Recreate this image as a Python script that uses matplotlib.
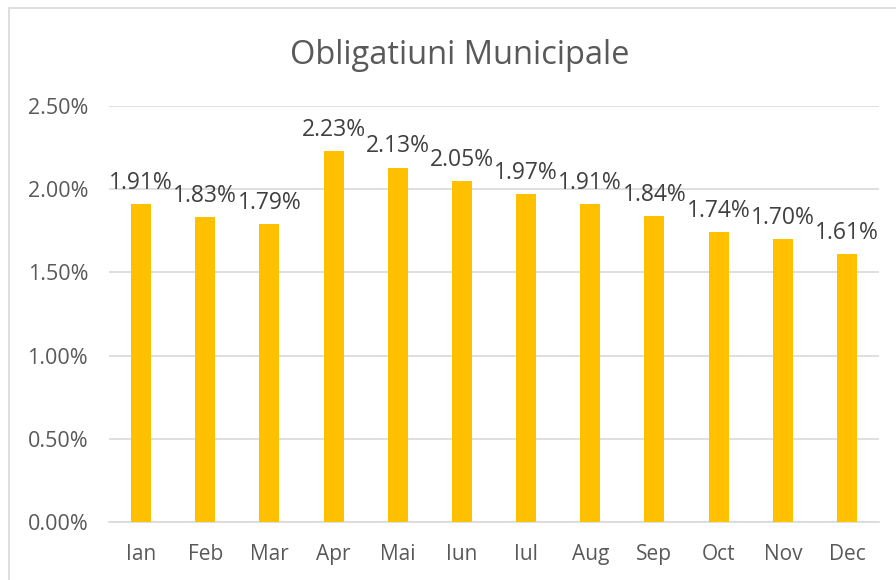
import matplotlib; matplotlib.use("Agg")
import matplotlib.pyplot as plt
from matplotlib.patches import Rectangle
from matplotlib.ticker import FuncFormatter
import numpy as np

plt.rcParams["font.family"] = ["Open Sans", "DejaVu Sans"]

luni = ["Ian", "Feb", "Mar", "Apr", "Mai", "Iun", "Iul", "Aug", "Sep", "Oct", "Nov", "Dec"]
randament = [1.91, 1.83, 1.79, 2.23, 2.13, 2.05, 1.97, 1.91, 1.84, 1.74, 1.70, 1.61]
yticks = [0.0, 0.5, 1.0, 1.5, 2.0, 2.5]

fig = plt.figure(figsize=(8.96, 5.8), dpi=100)
# chenar zona grafic (taiat in dreapta si jos)
fig.patches.append(Rectangle((9/896, -0.1), 1.2, 1 - 8/580 + 0.1, transform=fig.transFigure,
                             fill=False, edgecolor="#D9D9D9", lw=1.2))
ax = fig.add_axes([109/896, 1 - 522/580, 770/896, 416/580])

x = np.arange(len(luni))
ax.bar(x, randament, 0.31, color="#FFC000", zorder=3)
for xi, v in zip(x, randament):
    ax.annotate(f"{v:.2f}%", (xi, v), xytext=(0, 11), textcoords="offset points",
                ha="center", va="baseline", fontsize=16.5, color="#404040")

ax.set_xlim(-0.5, len(luni) - 0.5)
ax.set_ylim(0, 2.5)
ax.set_yticks(yticks)
ax.yaxis.set_major_formatter(FuncFormatter(lambda v, p: f"{v:.2f}%"))
ax.set_xticks(x)
ax.set_xticklabels(luni)
ax.tick_params(length=0, colors="#595959")
ax.tick_params(axis="x", labelsize=15, pad=16)
ax.tick_params(axis="y", labelsize=15.5, pad=15)
ax.grid(axis="y", color="#D9D9D9", lw=1.2, zorder=0)
for s in ["top", "right", "left"]:
    ax.spines[s].set_visible(False)
ax.spines["bottom"].set_color("#D9D9D9")
ax.spines["bottom"].set_linewidth(1.2)

fig.text(460/896, 1 - 55/580, "Obligatiuni Municipale", ha="center", va="center",
         fontsize=23.5, color="#595959")

fig.savefig("out.png", dpi=100)
